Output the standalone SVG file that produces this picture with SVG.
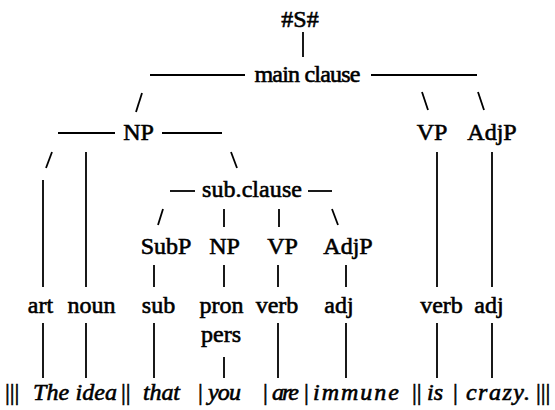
<svg xmlns="http://www.w3.org/2000/svg" width="555" height="410" viewBox="0 0 555 410" font-family="Liberation Serif, Times New Roman, serif" font-size="24">
<style>
text{fill:#000;stroke:#000;stroke-width:0.6}
.n{text-anchor:middle}
.w{font-style:italic}
.c line{stroke:#000;stroke-width:1.8;stroke-linecap:butt}
</style>
<rect width="555" height="410" fill="#fff"/>
<g class="c" id="connectors">
<line x1="303" y1="32" x2="303" y2="57"/>
<line x1="150" y1="75" x2="245" y2="75"/>
<line x1="371" y1="75" x2="477" y2="75"/>
<line x1="142" y1="93" x2="136" y2="112"/>
<line x1="422" y1="92" x2="428" y2="110"/>
<line x1="478" y1="92" x2="484" y2="110"/>
<line x1="58" y1="133" x2="115" y2="133"/>
<line x1="162" y1="133" x2="222" y2="133"/>
<line x1="52" y1="152" x2="46" y2="168"/>
<line x1="86" y1="152" x2="86" y2="287"/>
<line x1="231" y1="152" x2="237" y2="168"/>
<line x1="43" y1="180" x2="43" y2="287"/>
<line x1="437" y1="152" x2="437" y2="287"/>
<line x1="492" y1="152" x2="492" y2="287"/>
<line x1="170" y1="191" x2="195" y2="191"/>
<line x1="308" y1="191" x2="332" y2="191"/>
<line x1="163" y1="209" x2="158" y2="225"/>
<line x1="224" y1="209" x2="224" y2="227"/>
<line x1="279" y1="209" x2="279" y2="227"/>
<line x1="332" y1="209" x2="338" y2="225"/>
<line x1="154" y1="265" x2="154" y2="287"/>
<line x1="224" y1="265" x2="224" y2="287"/>
<line x1="278" y1="265" x2="278" y2="287"/>
<line x1="346" y1="265" x2="346" y2="287"/>
<line x1="43" y1="323" x2="43" y2="378"/>
<line x1="86" y1="323" x2="86" y2="378"/>
<line x1="154" y1="323" x2="154" y2="378"/>
<line x1="224" y1="357" x2="224" y2="378"/>
<line x1="278" y1="323" x2="278" y2="378"/>
<line x1="346" y1="323" x2="346" y2="378"/>
<line x1="437" y1="323" x2="437" y2="378"/>
<line x1="492" y1="323" x2="492" y2="378"/>
</g>
<g id="S"><text class="n" x="300" y="27">#S#</text></g>
<g id="mainclause"><text class="n" x="307.5" y="82" textLength="106">main clause</text></g>
<g id="NP"><text class="n" x="138.5" y="140">NP</text></g>
<g id="VP"><text class="n" x="432" y="140">VP</text></g>
<g id="AdjP"><text class="n" x="492" y="140">AdjP</text></g>
<g id="subclause"><text class="n" x="252" y="197" textLength="100">sub.clause</text></g>
<g id="SubP"><text class="n" x="166" y="254">SubP</text></g>
<g id="NP2"><text class="n" x="224.5" y="254">NP</text></g>
<g id="VP2"><text class="n" x="282.5" y="254">VP</text></g>
<g id="AdjP2"><text class="n" x="348" y="254">AdjP</text></g>
<g id="art"><text class="n" x="40.5" y="313">art</text></g>
<g id="noun"><text class="n" x="91.5" y="313">noun</text></g>
<g id="sub"><text class="n" x="158.5" y="313">sub</text></g>
<g id="pronpers"><text class="n" x="221.5" y="313">pron</text><text class="n" x="221" y="342">pers</text></g>
<g id="verb"><text class="n" x="277" y="313">verb</text></g>
<g id="adj"><text class="n" x="339" y="313">adj</text></g>
<g id="verb2"><text class="n" x="441.5" y="313">verb</text></g>
<g id="adj2"><text class="n" x="489" y="313">adj</text></g>
<g id="sentence">
<text x="5" y="400">|||</text>
<text x="33" y="400" class="w" textLength="84">The idea</text>
<text x="121" y="400">||</text>
<text x="143" y="400" class="w" textLength="37">that</text>
<text x="198" y="400">|</text>
<text x="208" y="400" class="w" textLength="33">you</text>
<text x="263" y="400">|</text>
<text x="272" y="400" class="w" textLength="27">are</text>
<text x="304" y="400">|</text>
<text x="313" y="400" class="w" textLength="86">immune</text>
<text x="412" y="400">||</text>
<text x="427" y="400" class="w">is</text>
<text x="453" y="400">|</text>
<text x="466" y="400" class="w" textLength="64">crazy.</text>
<text x="536" y="400">|||</text>
</g>
</svg>
